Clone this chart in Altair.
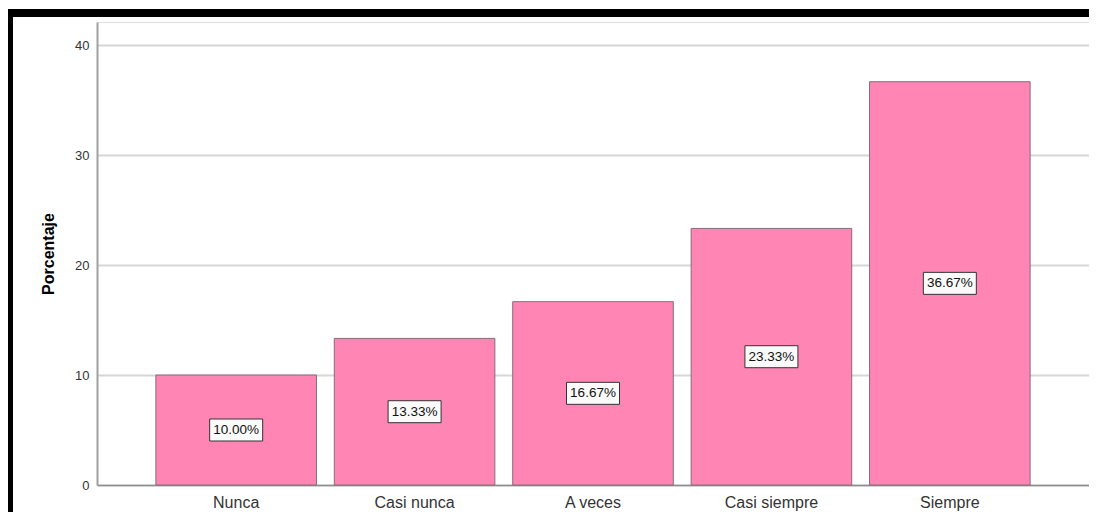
import altair as alt
import pandas as pd

categories = ["Nunca", "Casi nunca", "A veces", "Casi siempre", "Siempre"]
values = [10.00, 13.33, 16.67, 23.33, 36.67]
labels = ["10.00%", "13.33%", "16.67%", "23.33%", "36.67%"]
y_ticks = [0, 10, 20, 30, 40]

df = pd.DataFrame({"cat": categories, "val": values, "lab": labels})
df["mid"] = df["val"] / 2

FONT = "Liberation Sans"

x_enc = alt.X("cat:N", sort=categories, title=None,
              scale=alt.Scale(paddingInner=0.1, paddingOuter=0.33),
              axis=alt.Axis(labelAngle=0, labelFontSize=16, labelColor="#333333",
                            labelFont=FONT, labelPadding=9, ticks=False,
                            domainColor="#8c8c8c", domainWidth=1.5, grid=False))
y_scale = alt.Scale(domain=[0, 42.1], nice=False)

base = alt.Chart(df)

bars = base.mark_bar(color="#FF85B4", stroke="#8a6b78", strokeWidth=1).encode(
    x=x_enc,
    y=alt.Y("val:Q", scale=y_scale, title="Porcentaje",
            axis=alt.Axis(values=y_ticks, labelFontSize=13, labelColor="#333333",
                          labelFont=FONT, ticks=False, labelPadding=8,
                          domainColor="#a0a0a0", domainWidth=2,
                          gridColor="#d6d6d6", gridWidth=2,
                          titleFont=FONT, titleFontSize=16, titleFontWeight="bold",
                          titleColor="#000000", titlePadding=18)),
)

boxes = base.mark_point(
    shape="M-1,-0.415L1,-0.415L1,0.415L-1,0.415Z", size=2809, filled=True,
    fill="#fafafa", stroke="#333333", strokeWidth=1, opacity=1,
).encode(x=alt.X("cat:N", sort=categories), y=alt.Y("mid:Q", scale=y_scale))

texts = base.mark_text(fontSize=13.5, font=FONT, color="#111111", baseline="middle").encode(
    x=alt.X("cat:N", sort=categories), y=alt.Y("mid:Q", scale=y_scale), text="lab:N"
)

top_border = alt.Chart(df).mark_rule(color="black", strokeWidth=8).encode(
    x=alt.value(-89), x2=alt.value(992), y=alt.value(-9)
)
left_border = alt.Chart(df).mark_rule(color="black", strokeWidth=5).encode(
    x=alt.value(-86.5), y=alt.value(-13), y2=alt.value(510)
)

chart = alt.layer(bars, boxes, texts, top_border, left_border).properties(
    width=992, height=463,
    autosize=alt.AutoSizeParams(type="none"),
    padding={"left": 89, "top": 14, "right": 0, "bottom": 27},
).configure_view(stroke=None).configure(background="white")

chart.save("out.html", embed_options={"renderer": "svg", "actions": False})
